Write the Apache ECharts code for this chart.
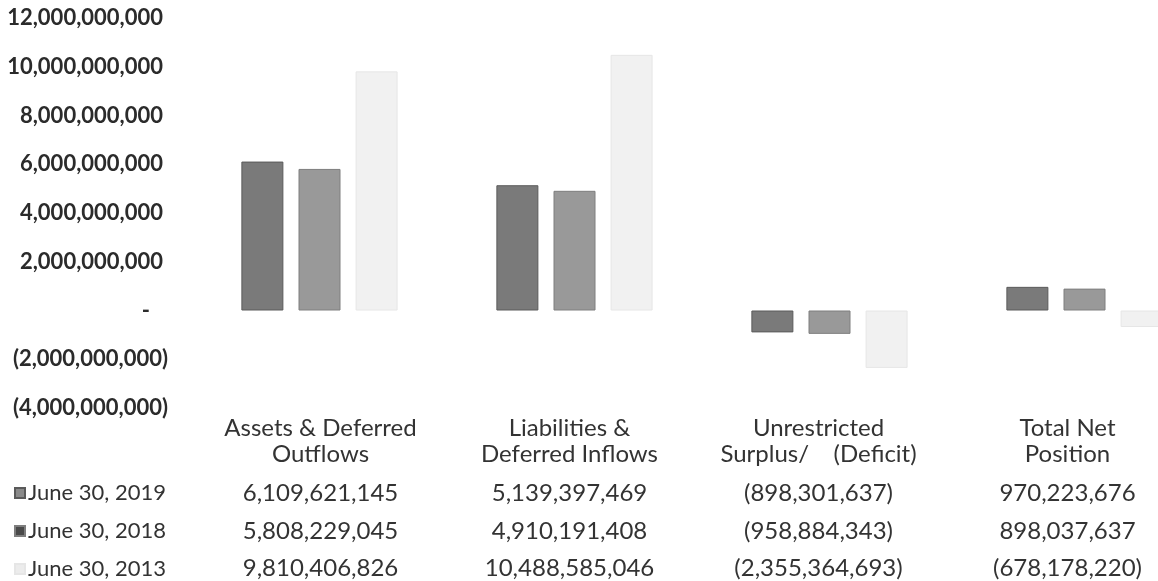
<!DOCTYPE html>
<html>
<head>
<meta charset="utf-8">
<script src="https://cdn.jsdelivr.net/npm/echarts@6/dist/echarts.min.js"></script>
<style>
  html, body { margin: 0; padding: 0; background: #ffffff; overflow: hidden; }
  /* the plot runs past the right edge of the page, so the last column is cut */
  #chart { width: 1220px; height: 581px; }
</style>
</head>
<body>
<div id="chart"></div>
<script>
// Statement of net position, three fiscal year-ends
const categories = [
  'Assets & Deferred\nOutflows',
  'Liabilities &\nDeferred Inflows',
  'Unrestricted\nSurplus/    (Deficit)',
  'Total Net\nPosition'
];
const seriesNames = ['June 30, 2019', 'June 30, 2018', 'June 30, 2013'];
const fy2019 = [6109621145, 5139397469, -898301637, 970223676];
const fy2018 = [5808229045, 4910191408, -958884343, 898037637];
const fy2013 = [9810406826, 10488585046, -2355364693, -678178220];
const yTicks = { min: -4000000000, max: 12000000000, interval: 2000000000 };

const FONT = 'Lato';
const TEXT = '#333333';
const barColors = ['#7a7a7a', '#999999', '#f1f1f1'];
const barBorders = ['#5a5a5a', '#7e7e7e', '#e6e6e6'];
const legendColors = ['#8a8a8a', '#4a4a4a', '#ececec'];

// accounting style: thousands separators, negatives in parentheses
function acct(v) {
  const s = Math.abs(v).toLocaleString('en-US');
  return v < 0 ? '(' + s + ')' : s;
}

function yLabel(v) {
  if (v === 0) return '{z|-}';
  if (v < 0) return '{n|' + acct(v) + '}';
  return '{p|' + acct(v) + '}';
}

// one text row per year under each category column
const rows = [fy2019, fy2018, fy2013];
const rowOffsets = [73, 111, 148];

const tableAxes = rows.map((vals, r) => ({
  type: 'category',
  gridIndex: 1,
  position: 'bottom',
  offset: rowOffsets[r],
  data: categories,
  axisLine: { show: false },
  axisTick: { show: false },
  axisLabel: {
    margin: 0,
    interval: 0,
    verticalAlign: 'top',
    fontFamily: FONT,
    fontSize: 24,
    color: TEXT,
    formatter: (val, idx) => acct(vals[idx])
  }
}));

const yLabelStyle = { fontFamily: FONT, fontWeight: 'bold', fontSize: 22, color: '#2b2b2b' };

const chart = echarts.init(document.getElementById('chart'), null, { renderer: 'canvas' });
chart.setOption({
  backgroundColor: '#ffffff',
  animation: false,
  grid: [
    { left: 192, right: 8, top: 18, bottom: 173, containLabel: false },
    { left: 196, right: 28, top: 18, bottom: 173, containLabel: false }
  ],
  legend: {
    orient: 'vertical',
    left: 9,
    top: 477,
    height: 120,
    itemGap: 16,
    itemWidth: 10,
    itemHeight: 10,
    icon: 'rect',
    textStyle: { fontFamily: FONT, fontSize: 22, lineHeight: 22, color: TEXT, padding: [0, 0, 0, -2] },
    data: seriesNames.map((n, i) => ({ name: n, itemStyle: { color: legendColors[i] } }))
  },
  xAxis: [
    {
      type: 'category',
      gridIndex: 0,
      data: categories,
      axisLine: { show: false },
      axisTick: { show: false },
      axisLabel: { show: false }
    },
    {
      type: 'category',
      gridIndex: 1,
      position: 'bottom',
      data: categories,
      axisLine: { show: false },
      axisTick: { show: false },
      axisLabel: {
        margin: 7,
        interval: 0,
        verticalAlign: 'top',
        lineHeight: 26,
        fontFamily: FONT,
        fontSize: 24,
        color: TEXT
      }
    },
    ...tableAxes
  ],
  yAxis: [
    {
      type: 'value',
      gridIndex: 0,
      min: yTicks.min,
      max: yTicks.max,
      interval: yTicks.interval,
      splitLine: { show: false },
      axisLine: { show: false },
      axisTick: { show: false },
      axisLabel: {
        margin: 24,
        formatter: yLabel,
        rich: {
          p: Object.assign({ padding: [0, 5, 0, 0] }, yLabelStyle),
          n: Object.assign({}, yLabelStyle),
          z: Object.assign({ padding: [0, 18, 0, 0] }, yLabelStyle)
        }
      }
    },
    {
      type: 'value',
      gridIndex: 1,
      min: yTicks.min,
      max: yTicks.max,
      interval: yTicks.interval,
      show: false
    }
  ],
  series: [fy2019, fy2018, fy2013].map((vals, i) => ({
    name: seriesNames[i],
    type: 'bar',
    xAxisIndex: 0,
    yAxisIndex: 0,
    data: vals,
    barWidth: 42,
    barGap: '36%',
    itemStyle: { color: barColors[i], borderColor: barBorders[i], borderWidth: 1 }
  }))
});
</script>
</body>
</html>
